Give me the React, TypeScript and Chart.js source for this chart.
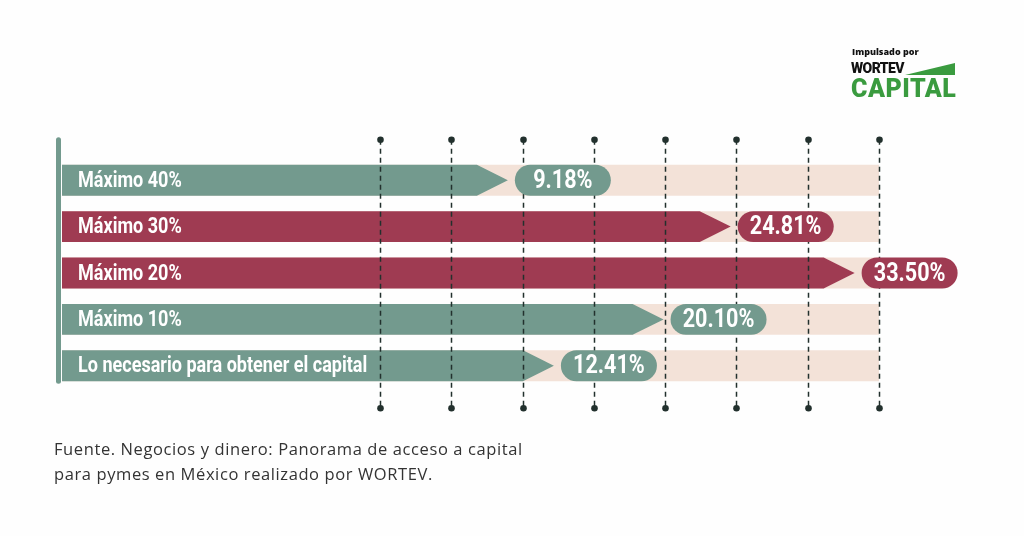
import React, { useEffect, useRef } from 'react';
import { Chart, registerables } from 'chart.js';

Chart.register(...registerables);

// ---- data ----
const CATEGORIES = [
  'Máximo 40%',
  'Máximo 30%',
  'Máximo 20%',
  'Máximo 10%',
  'Lo necesario para obtener el capital',
];
const VALUES = [9.18, 24.81, 33.5, 20.1, 12.41];
const VALUE_LABELS = ['9.18%', '24.81%', '33.50%', '20.10%', '12.41%'];
const GRID_TICKS = [0, 5, 10, 15, 20, 25, 30, 35];
const X_MIN = -22.3;
const X_MAX = 35;

// ---- styles ----
const GREEN = '#739a8e';
const MAROON = '#9f3b52';
const BAR_COLORS = [GREEN, MAROON, MAROON, GREEN, GREEN];
const BAND = '#f3e2d8';
const GRID_COLOR = '#22302d';
const LABEL_FAMILY = 'Roboto, "Liberation Sans", sans-serif';

function drawCondensed(
  ctx: CanvasRenderingContext2D,
  text: string,
  x: number,
  y: number,
  align: 'left' | 'center',
  squeeze: number
) {
  ctx.save();
  ctx.translate(x, y);
  ctx.scale(squeeze, 1);
  ctx.textAlign = align;
  ctx.textBaseline = 'middle';
  ctx.fillText(text, 0, 0);
  ctx.restore();
}

const arrowPlugin = {
  id: 'arrowsAndPills',
  afterDatasetsDraw(chart: any) {
    const ctx = chart.ctx;
    const meta = chart.getDatasetMeta(1);
    const xs = chart.scales.x;
    const ys = chart.scales.y;
    const els = meta.data;
    if (!els.length) return;
    ctx.save();

    // arrow bars
    els.forEach((el: any, i: number) => {
      const { x, y, base, height } = el.getProps(['x', 'y', 'base', 'height'], true);
      const top = y - height / 2;
      const bot = y + height / 2;
      const tip = x - 3;
      const neck = tip - height;
      ctx.fillStyle = BAR_COLORS[i];
      ctx.beginPath();
      ctx.moveTo(base, top);
      ctx.lineTo(neck, top);
      ctx.lineTo(tip, y);
      ctx.lineTo(neck, bot);
      ctx.lineTo(base, bot);
      ctx.closePath();
      ctx.fill();
    });

    // category labels (condensed, inside the bars) from the y scale
    ctx.fillStyle = '#ffffff';
    ctx.font = `bold 22px ${LABEL_FAMILY}`;
    ys.ticks.forEach((t: any, i: number) => {
      const label = chart.data.labels[t.value];
      drawCondensed(ctx, label, chart.chartArea.left + 16, ys.getPixelForTick(i) + 1, 'left', 0.82);
    });

    const first = els[0].getProps(['y', 'height'], true);
    const last = els[els.length - 1].getProps(['y', 'height'], true);
    const firstTop = first.y - first.height / 2;
    const lastBot = last.y + last.height / 2;
    const yTop = firstTop - 25;
    const yBot = lastBot + 27;

    // left vertical rule
    ctx.strokeStyle = GREEN;
    ctx.lineWidth = 5;
    ctx.lineCap = 'round';
    ctx.beginPath();
    ctx.moveTo(chart.chartArea.left - 3.5, firstTop - 25);
    ctx.lineTo(chart.chartArea.left - 3.5, lastBot);
    ctx.stroke();
    ctx.lineCap = 'butt';

    // dashed grid lines with dots
    GRID_TICKS.forEach((v) => {
      const px = Math.round(xs.getPixelForValue(v)) + 0.5;
      ctx.strokeStyle = GRID_COLOR;
      ctx.lineWidth = 1.5;
      ctx.setLineDash([5, 4]);
      ctx.beginPath();
      ctx.moveTo(px, yTop);
      ctx.lineTo(px, yBot);
      ctx.stroke();
      ctx.setLineDash([]);
      ctx.fillStyle = GRID_COLOR;
      ctx.beginPath();
      ctx.arc(px, yTop, 3.3, 0, Math.PI * 2);
      ctx.fill();
      ctx.beginPath();
      ctx.arc(px, yBot, 3.3, 0, Math.PI * 2);
      ctx.fill();
    });

    // value pills
    els.forEach((el: any, i: number) => {
      const { x, y, height } = el.getProps(['x', 'y', 'height'], true);
      const left = x + 4;
      const w = 96;
      const r = height / 2;
      ctx.fillStyle = BAR_COLORS[i];
      ctx.beginPath();
      ctx.roundRect(left, y - r, w, height, r);
      ctx.fill();
      ctx.fillStyle = '#ffffff';
      ctx.font = `bold 26px ${LABEL_FAMILY}`;
      drawCondensed(ctx, VALUE_LABELS[i], left + w / 2, y + 1, 'center', 0.83);
    });

    ctx.restore();
  },
};

export default function App() {
  const canvasRef = useRef<HTMLCanvasElement | null>(null);

  useEffect(() => {
    document.body.style.margin = '0';
    const canvas = canvasRef.current;
    if (!canvas) return;
    const chart = new Chart(canvas, {
      type: 'bar',
      data: {
        labels: CATEGORIES,
        datasets: [
          {
            label: 'fondo',
            data: CATEGORIES.map(() => X_MAX),
            base: X_MIN,
            backgroundColor: BAND,
            grouped: false,
            categoryPercentage: 1,
            barPercentage: 0.667,
          } as any,
          {
            label: 'valor',
            data: VALUES,
            base: X_MIN,
            backgroundColor: 'rgba(0,0,0,0)',
            grouped: false,
            categoryPercentage: 1,
            barPercentage: 0.667,
          } as any,
        ],
      },
      options: {
        indexAxis: 'y',
        responsive: false,
        animation: false,
        events: [],
        layout: { padding: { left: 62, right: 145, top: 157, bottom: 147 } },
        plugins: {
          legend: { display: false },
          tooltip: { enabled: false },
        },
        scales: {
          x: {
            type: 'linear',
            min: X_MIN,
            max: X_MAX,
            grid: { display: false, drawTicks: false },
            border: { display: false },
            ticks: { display: false, stepSize: 5 },
          },
          y: {
            grid: { display: false, drawTicks: false },
            border: { display: false },
            ticks: { display: false },
          },
        },
      },
      plugins: [arrowPlugin],
    });
    return () => chart.destroy();
  }, []);

  return (
    <div
      style={{
        position: 'relative',
        width: 1024,
        height: 536,
        background: '#fefefe',
        overflow: 'hidden',
      }}
    >
      <canvas
        ref={canvasRef}
        width={1024}
        height={536}
        style={{ position: 'absolute', left: 0, top: 0 }}
      />
      {/* logo */}
      <div
        style={{
          position: 'absolute',
          left: 852,
          top: 45,
          fontFamily: '"Open Sans", sans-serif',
          fontWeight: 800,
          fontSize: 9,
          color: '#111',
        }}
      >
        Impulsado por
      </div>
      <div
        style={{
          position: 'absolute',
          left: 851,
          top: 60,
          fontFamily: '"Roboto", sans-serif',
          fontWeight: 900,
          fontSize: 14,
          letterSpacing: -0.6,
          color: '#111',
        }}
      >
        WORTEV
      </div>
      <div
        style={{
          position: 'absolute',
          left: 905,
          top: 63,
          width: 50,
          height: 12,
          background: '#3a9b3f',
          clipPath: 'polygon(0 100%, 100% 0, 100% 100%)',
        }}
      />
      <div
        style={{
          position: 'absolute',
          left: 851,
          top: 74,
          fontFamily: '"Roboto", sans-serif',
          fontWeight: 900,
          fontSize: 25,
          letterSpacing: 0.5,
          color: '#3a9b3f',
        }}
      >
        CAPITAL
      </div>
      {/* source */}
      <div
        style={{
          position: 'absolute',
          left: 54,
          top: 436,
          fontFamily: '"Open Sans", sans-serif',
          fontSize: 16.5,
          letterSpacing: 0.6,
          lineHeight: '25px',
          color: '#333',
        }}
      >
        Fuente. Negocios y dinero: Panorama de acceso a capital
        <br />
        para pymes en México realizado por WORTEV.
      </div>
    </div>
  );
}
